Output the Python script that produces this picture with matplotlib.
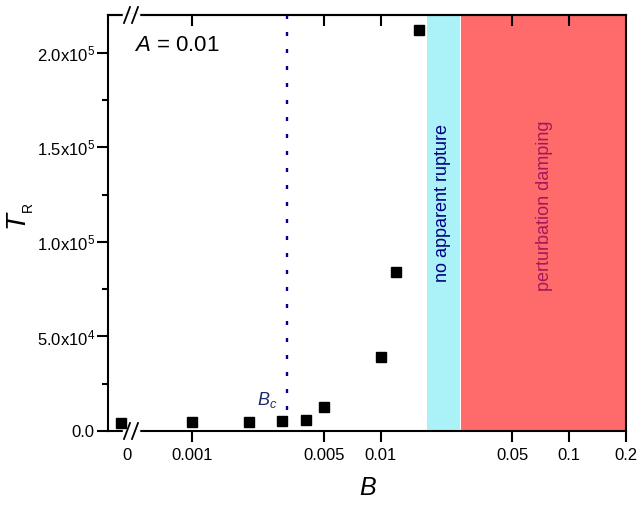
import matplotlib
matplotlib.use('Agg')
import matplotlib.pyplot as plt
import numpy as np

plt.rcParams['font.family'] = 'Liberation Sans'
plt.rcParams['mathtext.fontset'] = 'custom'
plt.rcParams['mathtext.rm'] = 'Liberation Sans'
plt.rcParams['mathtext.it'] = 'Liberation Sans:italic'

# rupture time vs B, A = 0.01
B = [0, 0.001, 0.002, 0.003, 0.004, 0.005, 0.01, 0.012, 0.016]
T_R = [4400, 4600, 4800, 5400, 5800, 12900, 39000, 84000, 212000]

B_c = 0.0032
no_rupture = (0.0177, 0.0264)
damping = (0.0268, 0.2)

x_ticks = [0.001, 0.005, 0.01, 0.05, 0.1, 0.2]
x_ticklabels = ['0.001', '0.005', '0.01', '0.05', '0.1', '0.2']
y_ticks = [0, 5e4, 1e5, 1.5e5, 2e5]
y_ticklabels = ['0.0', r'5.0x10$^{4}$', r'1.0x10$^{5}$', r'1.5x10$^{5}$', r'2.0x10$^{5}$']

# B = 0 sits left of the axis break, everything else on log10
ZERO_POS = -3.378
ZERO_LABEL_POS = -3.346


def xpos(b):
    b = np.asarray(b, dtype=float)
    safe = np.where(b > 0, b, 1.0)
    return np.where(b > 0, np.log10(safe), ZERO_POS)


fig = plt.figure(figsize=(6.4, 5.11), dpi=100)
ax = fig.add_axes([108 / 640, 1 - 431 / 511, 518 / 640, 416 / 511])

ax.set_xlim(-3.446, np.log10(0.2))
ax.set_ylim(0, 2.2e5)

ax.axvspan(*xpos(no_rupture), color='#aaf2f8', lw=0, zorder=0)
ax.axvspan(*xpos(damping), color='#ff6b6b', lw=0, zorder=0)

ax.vlines(xpos(B_c), 11000, 2.2e5, colors='#000099', lw=1.7,
          linestyles=(0, (1.7, 5.5)), zorder=2)

ax.plot(xpos(B), T_R, 's', color='black', ms=6.7, clip_on=False, zorder=3)

for s in ax.spines.values():
    s.set_linewidth(1.5)

ax.set_xticks(list(xpos(x_ticks)) + [ZERO_LABEL_POS])
ax.set_xticklabels(x_ticklabels + ['0'])
ax.tick_params(axis='x', direction='out', length=8, width=1.5, labelsize=12, pad=4.5)
zero_tick = ax.xaxis.get_major_ticks()[-1]
zero_tick.tick1line.set_visible(False)
ax.xaxis.get_major_ticks()[0].tick1line.set_color('#1a1a8c')

ax.set_yticks(y_ticks)
ax.set_yticklabels(y_ticklabels)
ax.set_yticks(np.arange(2.5e4, 2.2e5, 5e4), minor=True)
ax.tick_params(axis='y', which='major', direction='out', length=8, width=1.5,
               labelsize=12, pad=1.5)
ax.tick_params(axis='y', which='minor', direction='out', length=4, width=1.5)

top = ax.secondary_xaxis('top')
top.set_xticks(xpos(x_ticks[:-1]))
top.tick_params(direction='in', length=8, width=1.5, labeltop=False)
top.spines['top'].set_linewidth(1.5)
top_ticks = top.xaxis.get_major_ticks()
top_ticks[0].tick2line.set_color('#1a1a8c')
top_ticks[3].tick2line.set_color('#8b0000')
top_ticks[4].tick2line.set_color('#8b0000')

# axis break marks on the bottom and top spines
for yb in (0, 1):
    gap = plt.Line2D([(124 - 108) / 518, (138 - 108) / 518], [yb, yb],
                     transform=ax.transAxes, color='white', lw=2.5, zorder=10)
    fig.add_artist(gap)
    for xc in (127, 135):
        sl = plt.Line2D([(xc - 3 - 108) / 518, (xc + 3 - 108) / 518],
                        [yb - 8 / 416, yb + 8 / 416],
                        transform=ax.transAxes, color='black', lw=1.3, zorder=11)
        fig.add_artist(sl)

ax.text(0.0508, 0.914, r'$A$ = 0.01', transform=ax.transAxes, fontsize=16,
        ha='left', va='baseline')
ax.text(0.287, 0.0625, r'$B_c$', transform=ax.transAxes, fontsize=13,
        color='#1e2c6e', ha='left', va='baseline')

ax.text(0.645, 0.548, 'no apparent rupture', transform=ax.transAxes,
        rotation=90, fontsize=13, color='#000080', ha='center', va='center')
ax.text(0.8436, 0.541, 'perturbation damping', transform=ax.transAxes,
        rotation=90, fontsize=13, color='#a3195b', ha='center', va='center')

fig.text(368 / 640, 1 - 495 / 511, 'B', style='italic', fontsize=18,
         ha='center', va='baseline')
fig.text(16 / 640, 1 - 219.5 / 511, 'T', style='italic', fontsize=20,
         rotation=90, ha='center', va='center')
fig.text(28 / 640, 1 - 207.5 / 511, 'R', fontsize=10,
         rotation=90, ha='center', va='center')

fig.savefig('out.png', dpi=100)
